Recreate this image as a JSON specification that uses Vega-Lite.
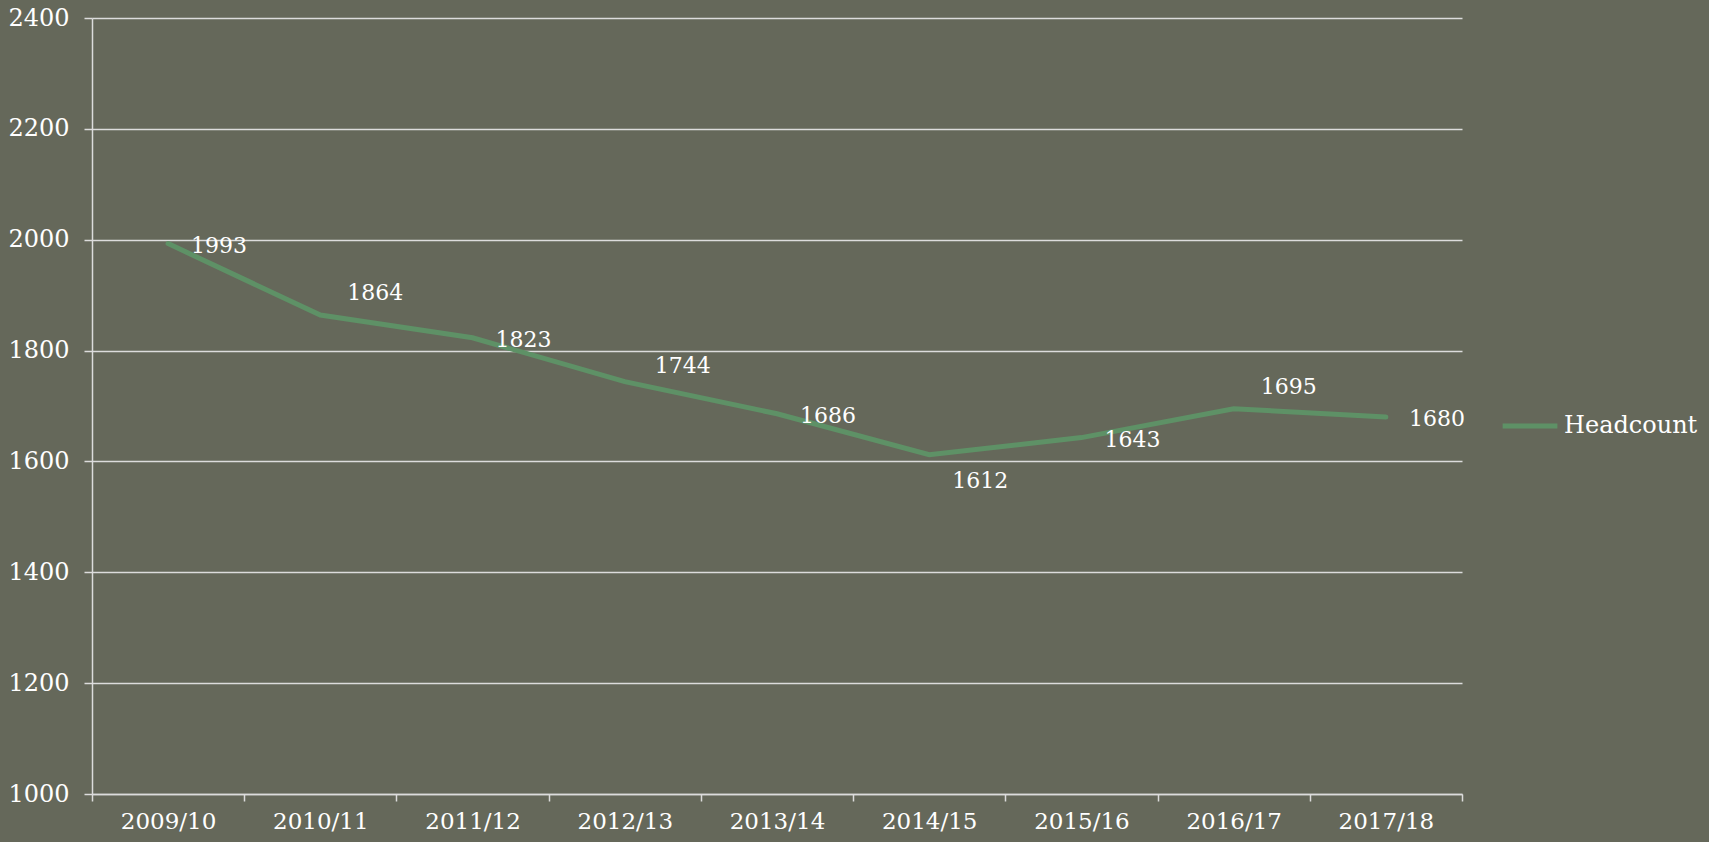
{
  "$schema": "https://vega.github.io/schema/vega-lite/v6.json",
  "width": 1370,
  "height": 776,
  "autosize": {"type": "none"},
  "padding": {"left": 92, "top": 18, "right": 247, "bottom": 48},
  "background": "#65685a",
  "config": {
    "view": {"stroke": null},
    "font": "DejaVu Serif",
    "axis": {
      "labelFont": "DejaVu Serif",
      "labelFontSize": 23,
      "labelColor": "#ffffff",
      "domainColor": "#dcdcdc",
      "tickColor": "#dcdcdc",
      "gridColor": "#dcdcdc",
      "domainWidth": 1.5,
      "tickWidth": 1.5,
      "gridWidth": 1.5,
      "title": null
    }
  },
  "data": {
    "values": [
      {"year": "2009/10", "headcount": 1993, "series": "Headcount"},
      {"year": "2010/11", "headcount": 1864, "series": "Headcount"},
      {"year": "2011/12", "headcount": 1823, "series": "Headcount"},
      {"year": "2012/13", "headcount": 1744, "series": "Headcount"},
      {"year": "2013/14", "headcount": 1686, "series": "Headcount"},
      {"year": "2014/15", "headcount": 1612, "series": "Headcount"},
      {"year": "2015/16", "headcount": 1643, "series": "Headcount"},
      {"year": "2016/17", "headcount": 1695, "series": "Headcount"},
      {"year": "2017/18", "headcount": 1680, "series": "Headcount"}
    ]
  },
  "encoding": {
    "x": {
      "field": "year",
      "type": "ordinal",
      "scale": {"paddingInner": 0, "paddingOuter": 0},
      "axis": {
        "labelAngle": 0,
        "tickBand": "extent",
        "tickSize": 7,
        "labelPadding": 9,
        "grid": false
      }
    },
    "y": {
      "field": "headcount",
      "type": "quantitative",
      "scale": {"domain": [1000, 2400], "nice": false, "zero": false},
      "axis": {
        "values": [1000, 1200, 1400, 1600, 1800, 2000, 2200, 2400],
        "format": "d",
        "tickSize": 8,
        "labelPadding": 15,
        "labelFontSize": 24,
        "grid": true
      }
    }
  },
  "layer": [
    {
      "mark": {"type": "line", "strokeWidth": 5, "strokeCap": "round"},
      "encoding": {
        "color": {
          "field": "series",
          "type": "nominal",
          "scale": {"range": ["#5e9166"]},
          "legend": {
            "title": null,
            "orient": "none",
            "legendX": 1408,
            "legendY": 378,
            "symbolType": "stroke",
            "symbolSize": 3000,
            "symbolStrokeWidth": 5,
            "labelFont": "DejaVu Serif",
            "labelFontSize": 24,
            "labelColor": "#ffffff",
            "labelOffset": 4
          }
        }
      }
    },
    {
      "transform": [{"filter": {"field": "year", "oneOf": ["2009/10", "2011/12", "2013/14", "2015/16", "2017/18"]}}],
      "mark": {"type": "text", "dx": 51, "dy": 2, "fontSize": 22, "color": "#ffffff", "font": "DejaVu Serif"},
      "encoding": {"text": {"field": "headcount", "type": "quantitative"}}
    },
    {
      "transform": [{"filter": {"field": "year", "oneOf": ["2010/11", "2016/17"]}}],
      "mark": {"type": "text", "dx": 55, "dy": -22, "fontSize": 22, "color": "#ffffff", "font": "DejaVu Serif"},
      "encoding": {"text": {"field": "headcount", "type": "quantitative"}}
    },
    {
      "transform": [{"filter": {"field": "year", "oneOf": ["2012/13"]}}],
      "mark": {"type": "text", "dx": 58, "dy": -16, "fontSize": 22, "color": "#ffffff", "font": "DejaVu Serif"},
      "encoding": {"text": {"field": "headcount", "type": "quantitative"}}
    },
    {
      "transform": [{"filter": {"field": "year", "oneOf": ["2014/15"]}}],
      "mark": {"type": "text", "dx": 51, "dy": 26, "fontSize": 22, "color": "#ffffff", "font": "DejaVu Serif"},
      "encoding": {"text": {"field": "headcount", "type": "quantitative"}}
    }
  ]
}
